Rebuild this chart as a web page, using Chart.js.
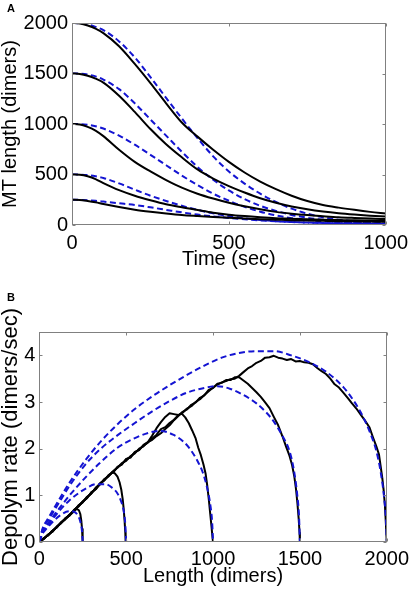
<!DOCTYPE html>
<html>
<head>
<meta charset="utf-8">
<script src="https://cdn.jsdelivr.net/npm/chart.js@4.4.1/dist/chart.umd.min.js"></script>
<style>
  html, body { margin: 0; padding: 0; background: #fff; }
  #wrap { position: relative; width: 414px; height: 590px; overflow: hidden; }
  canvas { position: absolute; left: 0; }
  .lbl { position: absolute; font: bold 11px "Liberation Sans", Arial, sans-serif; line-height: 11px; color: #000; }
</style>
</head>
<body>
<div id="wrap">
  <canvas id="chartA" width="414" height="270" style="top:0"></canvas>
  <canvas id="chartB" width="414" height="320" style="top:270px"></canvas>
  <div class="lbl" style="left:7px;top:3px">A</div>
  <div class="lbl" style="left:7px;top:292px">B</div>
</div>
<script>
// ---------- Panel A data (time in sec, length in dimers) ----------
const A_TIME = [0,25,50,75,100,150,200,250,300,350,400,450,500,550,600,650,700,750,800,850,900,950,1000];
const A_BLACK_2000 = [2000,1995,1975,1945,1900,1770,1595,1405,1205,1015,875,745,625,520,430,355,290,237,198,172,150,130,113];
const A_BLACK_1500 = [1500,1495,1478,1450,1410,1280,1120,950,800,670,550,460,385,322,265,220,183,155,133,116,103,92,83];
const A_BLACK_1000 = [1000,996,972,935,880,745,625,530,445,370,310,262,220,185,155,130,112,98,87,77,70,64,59];
const A_BLACK_500  = [500,497,482,455,415,345,290,245,205,175,148,122,102,88,77,68,62,56,52,49,46,44,42];
const A_BLACK_250  = [250,248,238,225,208,178,152,132,115,100,89,79,71,64,58,53,48,44,41,38,36,34,32];
const A_BLUE_2000 = [2000,1997,1985,1962,1930,1818,1660,1465,1258,1055,860,680,530,410,310,228,162,112,76,52,36,26,20];
const A_BLUE_1500 = [1500,1498,1490,1472,1440,1345,1205,1045,885,725,575,448,342,256,190,140,100,72,52,38,28,21,16];
const A_BLUE_1000 = [1000,999,992,978,955,885,795,695,592,490,395,310,240,180,132,95,68,50,37,28,22,17,14];
const A_BLUE_500  = [500,499,494,482,465,412,350,290,238,190,150,115,88,66,50,38,30,24,19,16,14,12,10];
const A_BLUE_250  = [250,249,246,240,232,215,198,175,150,125,103,85,70,56,45,36,29,24,20,17,14,12,10];
const A_X_TICKS = [0,500,1000];
const A_Y_TICKS = [0,500,1000,1500,2000];

// ---------- Panel B data ([length (dimers), depolym rate (dimers/sec)]) ----------
const B_BLUE_2000 = [[0,0],[20,0.3],[50,0.5],[100,0.82],[170,1.25],[265,1.75],[360,2.18],[455,2.54],[550,2.85],[650,3.12],[750,3.36],[850,3.58],[950,3.78],[1050,3.95],[1150,4.05],[1250,4.09],[1350,4.09],[1450,4.0],[1550,3.86],[1650,3.65],[1750,3.32],[1800,3.08],[1850,2.78],[1900,2.38],[1940,1.95],[1965,1.5],[1985,0.95],[1995,0.5],[2000,0]];
const B_BLUE_1500 = [[0,0],[20,0.28],[50,0.46],[100,0.76],[170,1.18],[265,1.66],[360,2.02],[455,2.3],[550,2.55],[650,2.8],[750,3.02],[850,3.2],[950,3.3],[1025,3.34],[1100,3.28],[1175,3.15],[1250,2.97],[1300,2.8],[1350,2.58],[1400,2.27],[1440,1.95],[1465,1.55],[1485,1.0],[1495,0.55],[1500,0]];
const B_BLUE_1000 = [[0,0],[20,0.24],[50,0.4],[100,0.65],[170,0.98],[265,1.38],[345,1.68],[450,2.02],[535,2.2],[630,2.34],[700,2.38],[770,2.3],[830,2.15],[870,1.98],[910,1.74],[940,1.5],[965,1.18],[985,0.78],[995,0.42],[1000,0]];
const B_BLUE_500  = [[0,0],[20,0.2],[50,0.36],[100,0.6],[170,0.88],[265,1.14],[330,1.24],[380,1.24],[420,1.16],[450,1.04],[470,0.88],[485,0.68],[495,0.38],[500,0]];
const B_BLUE_250  = [[0,0],[15,0.15],[40,0.28],[80,0.44],[120,0.57],[170,0.66],[200,0.65],[220,0.58],[235,0.45],[245,0.26],[250,0]];

const B_BLACK_2000 = [[0,0],[25,0.07],[50,0.15],[75,0.23],[100,0.32],[125,0.41],[150,0.49],[175,0.58],[200,0.68],[225,0.76],[250,0.86],[275,0.95],[300,1.06],[325,1.13],[350,1.25],[375,1.33],[400,1.43],[425,1.5],[450,1.6],[475,1.67],[500,1.77],[525,1.82],[550,1.92],[575,1.98],[600,2.07],[625,2.13],[650,2.22],[675,2.3],[700,2.42],[725,2.46],[750,2.55],[775,2.62],[800,2.72],[825,2.77],[850,2.86],[875,2.91],[900,3.0],[925,3.06],[950,3.15],[975,3.23],[1000,3.31],[1025,3.37],[1050,3.42],[1075,3.45],[1100,3.49],[1125,3.5],[1150,3.56],[1175,3.64],[1200,3.72],[1225,3.77],[1250,3.84],[1275,3.88],[1300,3.95],[1325,3.96],[1350,3.99],[1375,3.95],[1400,3.93],[1425,3.9],[1450,3.92],[1475,3.87],[1500,3.88],[1525,3.85],[1550,3.84],[1575,3.81],[1600,3.73],[1625,3.66],[1650,3.6],[1675,3.5],[1700,3.38],[1725,3.31],[1750,3.2],[1775,3.09],[1800,2.97],[1825,2.86],[1850,2.73],[1875,2.6],[1900,2.46],[1920,2.25],[1940,2.05],[1955,1.88],[1965,1.62],[1975,1.35],[1983,1.08],[1990,0.75],[1995,0.4],[1998,0.15],[2000,0]];
const B_BLACK_1500 = [[0,0],[25,0.08],[50,0.14],[75,0.24],[100,0.31],[125,0.42],[150,0.5],[175,0.59],[200,0.67],[225,0.78],[250,0.86],[275,0.96],[300,1.04],[325,1.16],[350,1.24],[375,1.34],[400,1.41],[425,1.52],[450,1.59],[475,1.69],[500,1.74],[525,1.84],[550,1.9],[575,2.0],[600,2.05],[625,2.14],[650,2.19],[675,2.27],[700,2.33],[725,2.42],[750,2.5],[775,2.61],[800,2.7],[825,2.79],[850,2.84],[875,2.94],[900,2.99],[925,3.09],[950,3.14],[975,3.26],[1000,3.3],[1025,3.39],[1050,3.41],[1075,3.47],[1100,3.47],[1125,3.53],[1150,3.53],[1175,3.46],[1200,3.39],[1225,3.3],[1250,3.21],[1275,3.11],[1300,2.99],[1325,2.87],[1350,2.68],[1375,2.5],[1400,2.26],[1420,2.05],[1440,1.85],[1455,1.65],[1468,1.4],[1478,1.12],[1486,0.82],[1493,0.5],[1498,0.2],[1500,0]];
const B_BLACK_1000 = [[0,0],[25,0.06],[50,0.16],[75,0.22],[100,0.33],[125,0.4],[150,0.51],[175,0.57],[200,0.69],[225,0.76],[250,0.87],[275,0.94],[300,1.07],[325,1.13],[350,1.26],[375,1.32],[400,1.44],[425,1.49],[450,1.61],[475,1.66],[500,1.78],[525,1.81],[550,1.93],[575,1.97],[600,2.08],[625,2.14],[650,2.28],[675,2.44],[700,2.57],[725,2.68],[750,2.76],[775,2.74],[800,2.72],[820,2.75],[840,2.67],[860,2.55],[880,2.39],[900,2.22],[915,2.02],[930,1.86],[945,1.66],[957,1.47],[967,1.2],[976,0.9],[984,0.6],[992,0.3],[997,0.1],[1000,0]];
const B_BLACK_500  = [[0,0],[25,0.08],[50,0.14],[75,0.24],[100,0.31],[125,0.42],[150,0.49],[175,0.59],[200,0.67],[225,0.78],[250,0.85],[275,0.97],[300,1.04],[325,1.16],[350,1.24],[375,1.35],[400,1.42],[420,1.5],[435,1.47],[450,1.4],[462,1.28],[472,1.12],[480,0.92],[486,0.7],[491,0.45],[495,0.2],[497,0]];
const B_BLACK_250  = [[0,0],[25,0.07],[50,0.15],[75,0.22],[100,0.32],[125,0.41],[150,0.5],[175,0.57],[200,0.66],[215,0.71],[228,0.68],[236,0.6],[242,0.45],[246,0.28],[249,0.1],[250,0]];
const B_X_TICKS = [0,500,1000,1500,2000];
const B_Y_TICKS = [0,1,2,3,4];

// ---------- helpers ----------
const FONT = '"Liberation Sans", Arial, Helvetica, sans-serif';
const BLUE = '#1414d2';
const BLACK = '#000000';
const BOX = '#808080';

function seriesA(ys) { return A_TIME.map((t, i) => ({ x: t, y: ys[i] })); }
function seriesB(pairs) { return pairs.map(p => ({ x: p[0], y: p[1] })); }

function blueDs(data) {
  return { data, borderColor: BLUE, borderWidth: 2, borderDash: [6, 3.5], pointRadius: 0,
           cubicInterpolationMode: 'monotone', fill: false };
}
function blackDs(data, smooth) {
  const d = { data, borderColor: BLACK, borderWidth: 2, pointRadius: 0, fill: false,
              borderJoinStyle: 'round' };
  if (smooth) d.cubicInterpolationMode = 'monotone'; else d.tension = 0;
  return d;
}

const matlabBox = {
  id: 'matlabBox',
  afterDraw(chart) {
    const { ctx, chartArea: a, scales: { x, y } } = chart;
    ctx.save();
    ctx.strokeStyle = BOX;
    ctx.lineWidth = 1;
    const L = Math.round(a.left) + 0.5, R = Math.round(a.right) - 0.5;
    const T = Math.round(a.top) + 0.5, B = Math.round(a.bottom) - 0.5;
    ctx.strokeRect(L, T, R - L, B - T);
    const tl = 3;
    ctx.beginPath();
    x.ticks.forEach(t => {
      const px = Math.round(x.getPixelForValue(t.value)) + 0.5;
      ctx.moveTo(px, B); ctx.lineTo(px, B - tl);
      ctx.moveTo(px, T); ctx.lineTo(px, T + tl);
    });
    y.ticks.forEach(t => {
      const py = Math.round(y.getPixelForValue(t.value)) + 0.5;
      ctx.moveTo(L, py); ctx.lineTo(L + tl, py);
      ctx.moveTo(R, py); ctx.lineTo(R - tl, py);
    });
    ctx.stroke();
    ctx.restore();
  }
};

function axis(min, max, tickList, fitSize, isX, titleText, titleSize, tickPad, titlePad) {
  return {
    type: 'linear', min, max,
    grid: { display: false, drawTicks: false },
    border: { display: false },
    afterBuildTicks: s => { s.ticks = tickList.map(v => ({ value: v })); },
    afterFit: s => { if (isX) s.height = fitSize; else s.width = fitSize; },
    ticks: { color: '#000', font: { family: FONT, size: 20 }, padding: tickPad,
             maxRotation: 0, minRotation: 0, autoSkip: false, callback: v => String(v) },
    title: { display: true, text: titleText, color: '#000',
             font: { family: FONT, size: titleSize, lineHeight: 1 }, padding: titlePad }
  };
}

function baseOptions(padding, xAxis, yAxis) {
  return {
    responsive: false, animation: false, devicePixelRatio: 1,
    layout: { padding },
    plugins: { legend: { display: false }, tooltip: { enabled: false } },
    elements: { point: { radius: 0 } },
    scales: { x: xAxis, y: yAxis }
  };
}

// ---------- Panel A ----------
new Chart(document.getElementById('chartA'), {
  type: 'line',
  data: {
    datasets: [
      blackDs(seriesA(A_BLACK_2000), true),
      blackDs(seriesA(A_BLACK_1500), true),
      blackDs(seriesA(A_BLACK_1000), true),
      blackDs(seriesA(A_BLACK_500), true),
      blackDs(seriesA(A_BLACK_250), true),
      blueDs(seriesA(A_BLUE_2000)),
      blueDs(seriesA(A_BLUE_1500)),
      blueDs(seriesA(A_BLUE_1000)),
      blueDs(seriesA(A_BLUE_500)),
      blueDs(seriesA(A_BLUE_250))
    ]
  },
  options: baseOptions(
    { left: 0, top: 23, right: 22, bottom: 0 },
    axis(0, 1000, A_X_TICKS, 45, true, 'Time (sec)', 20, 6, { top: 0, bottom: 1 }),
    axis(0, 2000, A_Y_TICKS, 72, false, 'MT length (dimers)', 20, 4, { top: 0, bottom: 0 })
  ),
  plugins: [matlabBox]
});

// ---------- Panel B ----------
new Chart(document.getElementById('chartB'), {
  type: 'line',
  data: {
    datasets: [
      blueDs(seriesB(B_BLUE_2000)),
      blueDs(seriesB(B_BLUE_1500)),
      blueDs(seriesB(B_BLUE_1000)),
      blueDs(seriesB(B_BLUE_500)),
      blueDs(seriesB(B_BLUE_250)),
      blackDs(seriesB(B_BLACK_2000), false),
      blackDs(seriesB(B_BLACK_1500), false),
      blackDs(seriesB(B_BLACK_1000), false),
      blackDs(seriesB(B_BLACK_500), false),
      blackDs(seriesB(B_BLACK_250), false)
    ]
  },
  options: baseOptions(
    { left: 0, top: 62, right: 22.7, bottom: 0 },
    axis(0, 2000, B_X_TICKS, 48, true, 'Length (dimers)', 20, 5, { top: 0, bottom: 4 }),
    axis(0, 4.5, B_Y_TICKS, 39.3, false, 'Depolym rate (dimers/sec)', 22, 4, { top: 0, bottom: 0 })
  ),
  plugins: [matlabBox]
});
</script>
</body>
</html>
